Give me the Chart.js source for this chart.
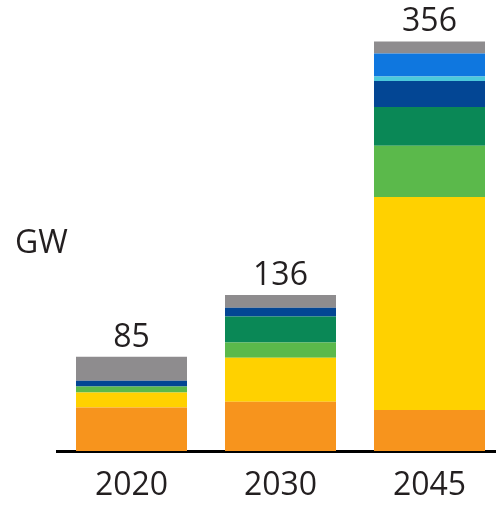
<!DOCTYPE html>
<html>
<head>
<meta charset="utf-8">
<script src="https://cdn.jsdelivr.net/npm/chart.js@4"></script>
<style>
  body { margin: 0; overflow: hidden; background: #fff; }
</style>
</head>
<body>
<canvas id="gw-chart" width="504" height="505"></canvas>
<script>
const years = ["2020", "2030", "2045"];
const totals = [85, 136, 356];

const orange = [37.8, 42.7, 35.7];
const yellow = [13.1, 38.4, 185.1];
const lightGreen = [5.2, 13.3, 44.5];
const darkGreen = [0, 22.4, 33.7];
const darkBlue = [5.0, 7.8, 22.7];
const cyan = [0, 0, 3.7];
const blue = [0, 0, 20.1];
const grey = [20.9, 11.1, 10.5];

const textColor = "#231f20";
const font = "'Open Sans', 'Noto Sans', sans-serif";

// totals above each stack + the unit label
const labelsPlugin = {
  id: "labels",
  afterDatasetsDraw(chart) {
    const c = chart.ctx;
    const y = chart.scales.y;
    c.save();
    c.fillStyle = textColor;
    c.font = "32px " + font;
    c.textAlign = "center";
    c.textBaseline = "alphabetic";
    const meta = chart.getDatasetMeta(0);
    years.forEach((yr, i) => {
      let sum = 0;
      chart.data.datasets.forEach((ds) => (sum += ds.data[i]));
      c.fillText(String(totals[i]), meta.data[i].x, y.getPixelForValue(sum) - 10);
    });
    c.textAlign = "left";
    c.fillText("GW", 15, 253);
    c.restore();
  },
};

const ctx = document.getElementById("gw-chart").getContext("2d");
const myChart = new Chart(ctx, {
  type: "bar",
  data: {
    labels: years,
    datasets: [
      { label: "orange", data: orange, backgroundColor: "#f7941d" },
      { label: "yellow", data: yellow, backgroundColor: "#ffd100" },
      { label: "light green", data: lightGreen, backgroundColor: "#5bb94b" },
      { label: "dark green", data: darkGreen, backgroundColor: "#0a8856" },
      { label: "dark blue", data: darkBlue, backgroundColor: "#034694" },
      { label: "cyan", data: cyan, backgroundColor: "#4cc9dc" },
      { label: "blue", data: blue, backgroundColor: "#0f77df" },
      { label: "grey", data: grey, backgroundColor: "#8e8c8e" },
    ],
  },
  options: {
    responsive: false,
    animation: false,
    layout: { padding: { left: 57, top: 0, right: 0, bottom: 0 } },
    datasets: {
      bar: { barPercentage: 0.745, categoryPercentage: 1, borderWidth: 0 },
    },
    plugins: {
      legend: { display: false },
      tooltip: { enabled: false },
    },
    scales: {
      x: {
        stacked: true,
        grid: { display: false },
        border: { display: true, color: "#000", width: 3 },
        ticks: {
          color: textColor,
          font: { size: 32, family: font },
          padding: 8,
        },
        afterFit(scale) {
          scale.height = 54;
        },
      },
      y: {
        stacked: true,
        display: false,
        min: 0,
        max: 392,
      },
    },
  },
  plugins: [labelsPlugin],
});
</script>
</body>
</html>
